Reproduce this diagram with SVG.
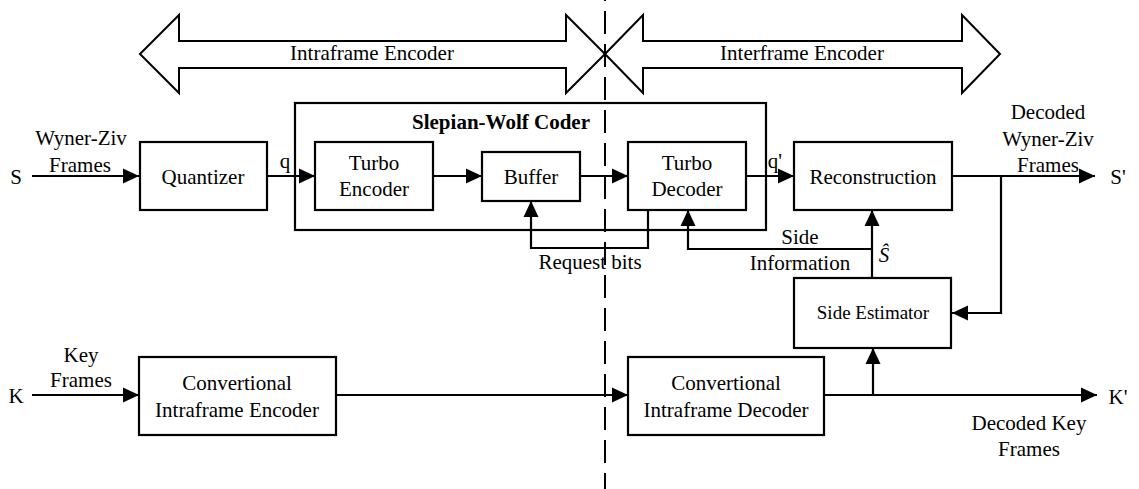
<svg xmlns="http://www.w3.org/2000/svg" width="1139" height="489" viewBox="0 0 1139 489">
<defs>
<marker id="ah" markerUnits="userSpaceOnUse" markerWidth="17" markerHeight="16" refX="16" refY="8" orient="auto">
<path d="M0,0.5 L16,8 L0,15.5 Z" fill="#000"/>
</marker>
<style>
.box{fill:#fff;stroke:#000;stroke-width:2.2}
.frame{fill:none;stroke:#000;stroke-width:2.2}
.big{fill:#fff;stroke:#000;stroke-width:2}
.arr{fill:none;stroke:#000;stroke-width:2.2;marker-end:url(#ah)}
.dash{fill:none;stroke:#000;stroke-width:2;stroke-dasharray:23 10}
text{font-family:"Liberation Serif","Times New Roman",serif;font-size:21px;fill:#000;text-anchor:middle}
.b{font-weight:bold}
.sm{font-size:19px}
.it{font-style:italic}
</style>
</defs>
<rect width="1139" height="489" fill="#fff"/>

<g id="intraframe-arrow">
<polygon class="big" points="140,54 179,15 179,41 566,41 566,15 605,54 566,93 566,68 179,68 179,93"/>
<text x="372" y="60">Intraframe Encoder</text>
</g>
<g id="interframe-arrow">
<polygon class="big" points="605,54 643,15 643,41 962,41 962,15 1000,54 962,93 962,68 643,68 643,93"/>
<text x="802" y="60">Interframe Encoder</text>
</g>

<g id="slepian-wolf">
<rect class="frame" x="295" y="103" width="471" height="127"/>
<text class="b" x="501" y="129">Slepian-Wolf Coder</text>
</g>

<g id="connectors">
<line class="arr" x1="32" y1="176" x2="139" y2="176"/>
<line class="arr" x1="267" y1="176" x2="315" y2="176"/>
<line class="arr" x1="433" y1="176" x2="482" y2="176"/>
<line class="arr" x1="580" y1="176" x2="628" y2="176"/>
<line class="arr" x1="746" y1="176" x2="794" y2="176"/>
<line class="arr" x1="952" y1="176" x2="1095" y2="176"/>
<polyline class="arr" points="1001,176 1001,313 952,313"/>
<polyline class="arr" points="648,210 648,248 531,248 531,201"/>
<line class="arr" x1="872" y1="279" x2="872" y2="210"/>
<polyline class="arr" points="872,249 688,249 688,210"/>
<line class="arr" x1="32" y1="395" x2="139" y2="395"/>
<line class="arr" x1="336" y1="395" x2="628" y2="395"/>
<line class="arr" x1="824" y1="395" x2="1097" y2="395"/>
<line class="arr" x1="873" y1="395" x2="873" y2="348"/>
</g>

<g id="quantizer">
<rect class="box" x="140" y="142" width="127" height="68"/>
<text x="203" y="184">Quantizer</text>
</g>
<g id="turbo-encoder">
<rect class="box" x="315" y="142" width="118" height="68"/>
<text x="374" y="170">Turbo</text>
<text x="374" y="196">Encoder</text>
</g>
<g id="buffer">
<rect class="box" x="482" y="152" width="98" height="49"/>
<text x="531" y="184">Buffer</text>
</g>
<g id="turbo-decoder">
<rect class="box" x="628" y="142" width="118" height="68"/>
<text x="687" y="170">Turbo</text>
<text x="687" y="196">Decoder</text>
</g>
<g id="reconstruction">
<rect class="box" x="794" y="142" width="158" height="68"/>
<text x="873" y="184">Reconstruction</text>
</g>
<g id="side-estimator">
<rect class="box" x="794" y="278" width="157" height="70"/>
<text class="sm" x="873" y="319">Side Estimator</text>
</g>
<g id="intra-encoder">
<rect class="box" x="139" y="357" width="197" height="78"/>
<text x="237" y="390">Convertional</text>
<text x="237" y="417">Intraframe Encoder</text>
</g>
<g id="intra-decoder">
<rect class="box" x="628" y="357" width="196" height="78"/>
<text x="726" y="390">Convertional</text>
<text x="726" y="417">Intraframe Decoder</text>
</g>

<g id="labels">
<text x="16" y="184">S</text>
<text x="81" y="145">Wyner-Ziv</text>
<text x="80" y="172">Frames</text>
<text x="285" y="168">q</text>
<text x="775" y="168">q'</text>
<text x="1048" y="119">Decoded</text>
<text x="1048" y="146">Wyner-Ziv</text>
<text x="1048" y="172">Frames</text>
<text x="1118" y="184">S'</text>
<text x="590" y="269">Request bits</text>
<text x="800" y="244">Side</text>
<text x="800" y="270">Information</text>
<text class="it" x="884" y="262">Ŝ</text>
<text x="16" y="403">K</text>
<text x="81" y="362">Key</text>
<text x="81" y="387">Frames</text>
<text x="1118" y="404">K'</text>
<text x="1029" y="430">Decoded Key</text>
<text x="1029" y="456">Frames</text>
</g>

<line class="dash" x1="605" y1="-22" x2="605" y2="489"/>
</svg>
